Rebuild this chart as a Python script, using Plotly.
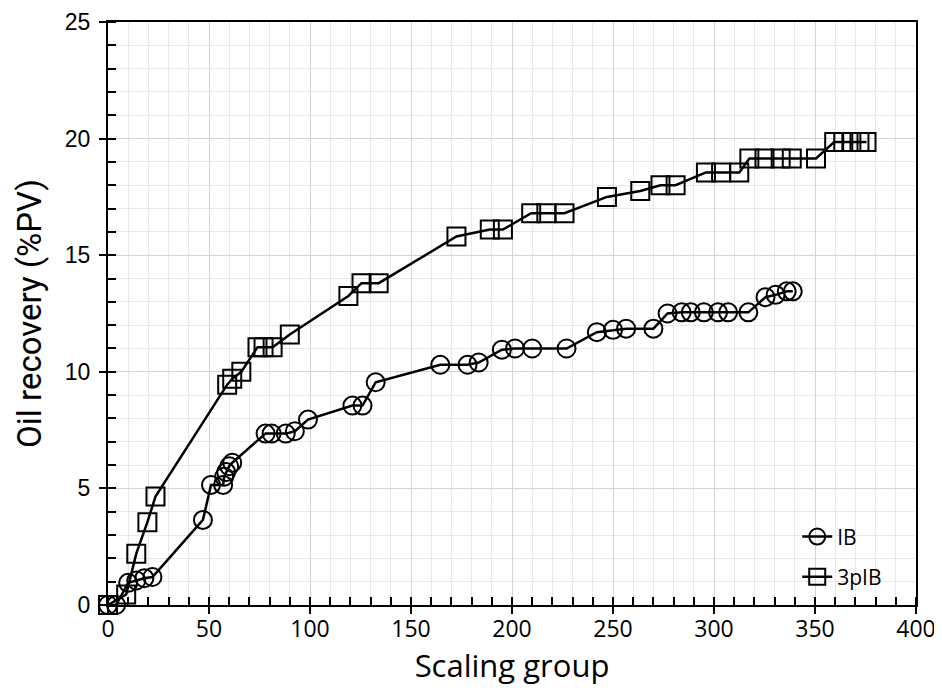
import plotly.graph_objects as go

# ---- data ----
ib_x = [0, 4, 10, 14, 18, 22, 47, 51, 57, 57.5, 58.5, 60, 61.5, 78, 81, 88, 92.5, 99,
        121, 126, 132.5, 164.5, 178, 183.5, 195, 201.5, 210, 227, 242, 250, 256.5, 270,
        277, 284, 288.5, 295, 302, 307, 317, 325.5, 330.5, 336, 339]
ib_y = [0, 0, 0.95, 1.05, 1.15, 1.2, 3.65, 5.15, 5.15, 5.5, 5.7, 5.95, 6.1, 7.35, 7.35, 7.35, 7.45, 7.95,
        8.55, 8.55, 9.55, 10.3, 10.3, 10.4, 10.95, 11.0, 11.0, 11.0, 11.7, 11.8, 11.85, 11.85,
        12.5, 12.55, 12.55, 12.55, 12.55, 12.55, 12.55, 13.2, 13.3, 13.45, 13.45]

p3_x = [0, 9, 14, 19.5, 23.5, 59, 61.5, 66, 74, 77, 81.5, 90, 119, 125.5, 134, 172.5, 189, 195.5,
        209.5, 217, 226, 247, 263.5, 273.5, 281, 296, 303.5, 312.5, 317.5, 325, 333, 338.5, 350.5,
        359.5, 364, 368, 372, 375.5]
p3_y = [0, 0.45, 2.2, 3.55, 4.65, 9.45, 9.7, 10.0, 11.05, 11.05, 11.05, 11.6, 13.25, 13.8, 13.8, 15.8,
        16.1, 16.1, 16.8, 16.8, 16.8, 17.5, 17.75, 18.0, 18.0, 18.55, 18.55, 18.55, 19.15, 19.15,
        19.15, 19.15, 19.15, 19.85, 19.85, 19.85, 19.85, 19.85]

x_title = "Scaling group"
y_title = "Oil recovery (%PV)"

fig = go.Figure()
fig.add_trace(go.Scatter(x=ib_x, y=ib_y, name="IB", mode="lines+markers", legendgroup="a",
                         line=dict(color="black", width=2.5),
                         marker=dict(symbol="circle-open", size=18, color="black",
                                     line=dict(width=2, color="black")),
                         cliponaxis=False))
fig.add_trace(go.Scatter(x=p3_x, y=p3_y, name="3pIB", mode="lines+markers", legendgroup="b",
                         line=dict(color="black", width=2.5),
                         marker=dict(symbol="square-open", size=18, color="black",
                                     line=dict(width=2, color="black")),
                         cliponaxis=False))
# empty trace to make the overlay axes (inner half of major ticks) render
fig.add_trace(go.Scatter(x=[], y=[], xaxis="x2", yaxis="y2", showlegend=False, hoverinfo="skip"))

fig.update_layout(
    width=934, height=690,
    margin=dict(l=100, r=26, t=14, b=93, autoexpand=False),
    paper_bgcolor="white", plot_bgcolor="white",
    font=dict(family="Open Sans", color="black"),
    showlegend=True,
    legend=dict(x=0.853, y=0.152, xanchor="left", yanchor="top",
                bgcolor="rgba(0,0,0,0)", font=dict(size=21, family="Open Sans", color="black"),
                tracegroupgap=10, itemwidth=30),
    xaxis=dict(range=[0, 400], dtick=50, tick0=0, showline=True, linecolor="black", linewidth=2,
               mirror=True, ticks="outside", ticklen=7, tickwidth=1.5, tickcolor="black",
               showgrid=True, gridcolor="#d4d4d4", gridwidth=1, zeroline=False,
               ticklabeloverflow="allow", ticklabelstandoff=-5,
               tickfont=dict(size=23, family="Open Sans", color="black"),
               minor=dict(dtick=10, ticks="inside", ticklen=8, tickwidth=1.5, tickcolor="black",
                          showgrid=True, gridcolor="#e8e8e8", gridwidth=1),
               title=dict(text=x_title, font=dict(size=31, family="Open Sans", color="black"),
                          standoff=8)),
    yaxis=dict(range=[0, 25], dtick=5, tick0=0, showline=True, linecolor="black", linewidth=2,
               mirror=True, ticks="outside", ticklen=7, tickwidth=1.5, tickcolor="black",
               showgrid=True, gridcolor="#d4d4d4", gridwidth=1, zeroline=False,
               ticklabeloverflow="allow", ticklabelstandoff=4,
               tickfont=dict(size=23, family="Liberation Sans", color="black"),
               minor=dict(dtick=1, ticks="inside", ticklen=8, tickwidth=1.5, tickcolor="black",
                          showgrid=True, gridcolor="#e8e8e8", gridwidth=1),
               title=dict(text=y_title, font=dict(size=33, family="Roboto", color="black"),
                          standoff=13)),
    xaxis2=dict(overlaying="x", anchor="y", range=[0, 400], dtick=50, tick0=0, ticks="inside",
                ticklen=8, tickwidth=1.5, tickcolor="black", showticklabels=False,
                showgrid=False, showline=False, zeroline=False),
    yaxis2=dict(overlaying="y", anchor="x", range=[0, 25], dtick=5, tick0=0, ticks="inside",
                ticklen=8, tickwidth=1.5, tickcolor="black", showticklabels=False,
                showgrid=False, showline=False, zeroline=False),
)

fig.write_html("out.html")
